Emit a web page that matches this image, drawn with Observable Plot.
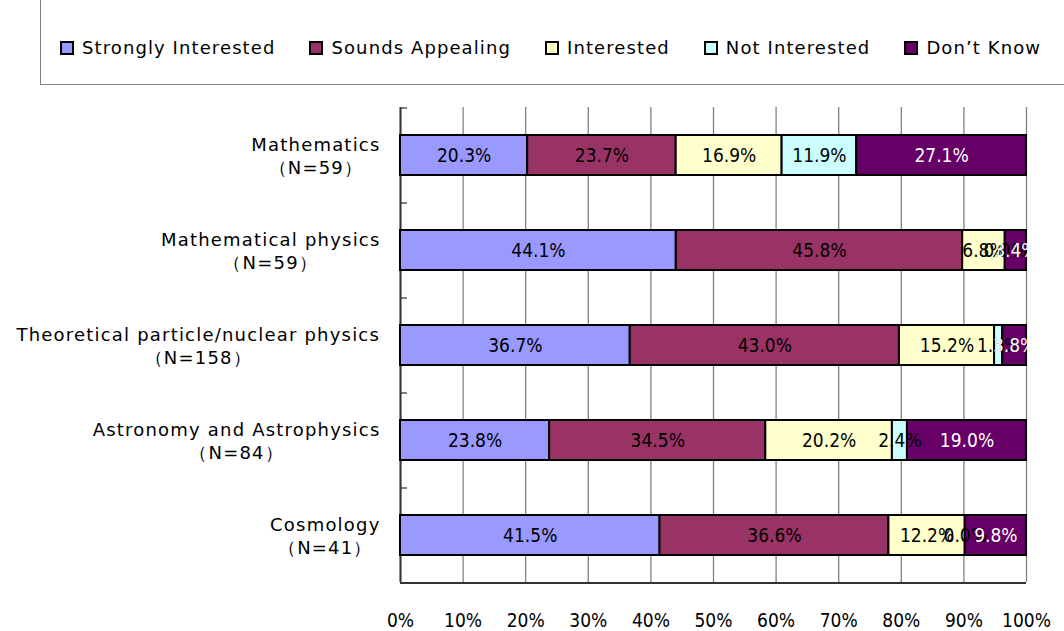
<!DOCTYPE html>
<html><head><meta charset="utf-8">
<script src="https://cdn.jsdelivr.net/npm/d3@7"></script>
<script src="https://cdn.jsdelivr.net/npm/@observablehq/plot@0.6"></script>
<style>
body{margin:0;background:#fff;overflow:hidden;width:1064px;height:631px;}
#legend{position:relative;height:85px;}
#legend .box{position:absolute;left:40px;top:-1px;width:1100px;height:86px;border:1px solid #808080;box-sizing:border-box;}
#legend .items{position:absolute;left:60px;top:37px;display:flex;font-family:"DejaVu Sans";font-size:18px;letter-spacing:1.1px;white-space:nowrap;}
.item{display:flex;align-items:center;margin-right:34px;}
.sw{width:14px;height:14px;border:2px solid #000;box-sizing:border-box;margin-right:8px;}
</style></head><body>
<div id="legend"><div class="box"></div><div class="items"></div></div>
<div id="chart"></div>
<script>
const categories = ["Mathematics\n\uFF08N=59\uFF09", "Mathematical physics\n\uFF08N=59\uFF09", "Theoretical particle/nuclear physics\n\uFF08N=158\uFF09", "Astronomy and Astrophysics\n\uFF08N=84\uFF09", "Cosmology\n\uFF08N=41\uFF09"];
const seriesNames = ["Strongly Interested", "Sounds Appealing", "Interested", "Not Interested", "Don\u2019t Know"];
const seriesColors = ["#9999FF", "#993366", "#FFFFCC", "#CCFFFF", "#660066"];
const stronglyInterested = [20.3, 44.1, 36.7, 23.8, 41.5];
const soundsAppealing   = [23.7, 45.8, 43.0, 34.5, 36.6];
const interested        = [16.9, 6.8, 15.2, 20.2, 12.2];
const notInterested     = [11.9, 0.0, 1.3, 2.4, 0.0];
const dontKnow          = [27.1, 3.4, 3.8, 19.0, 9.8];
const xTicks = [0, 0.1, 0.2, 0.3, 0.4, 0.5, 0.6, 0.7, 0.8, 0.9, 1.0];

const seriesValues = [stronglyInterested, soundsAppealing, interested, notInterested, dontKnow];
const data = [];
categories.forEach((c, i) => seriesNames.forEach((s, j) => data.push({category: c, series: s, value: seriesValues[j][i]})));

// legend
const items = d3.select("#legend .items");
seriesNames.forEach((s, j) => {
  const it = items.append("div").attr("class", "item");
  it.append("div").attr("class", "sw").style("background", seriesColors[j]);
  it.append("span").text(s);
});

const width = 1064, height = 546;
const marginTop = 22, marginBottom = 49, marginLeft = 400, marginRight = 38;
const step = (height - marginTop - marginBottom) / categories.length;
const plotW = width - marginLeft - marginRight;
const labelFont = "'Liberation Sans Narrow', 'Arial Narrow', 'DejaVu Sans Condensed', sans-serif";

const stackOpts = {x: "value", y: "category", z: "series", offset: "normalize"};

const chart = Plot.plot({
  width, height, marginTop, marginBottom, marginLeft, marginRight,
  style: {fontFamily: "DejaVu Sans", fontSize: "18px", color: "#000", background: "#fff"},
  x: {domain: [0, 1]},
  y: {domain: categories, paddingInner: 0.58, paddingOuter: 0.29},
  color: {domain: seriesNames, range: seriesColors},
  marks: [
    Plot.gridX(xTicks, {stroke: "#808080", strokeOpacity: 1, strokeWidth: 1.3}),
    Plot.ruleY(categories, {y: d => d, dy: -step / 2, insetRight: plotW - 7, stroke: "#555", strokeWidth: 1.5}),
    Plot.ruleY([categories[categories.length - 1]], {y: d => d, dy: step / 2, stroke: "#333", strokeWidth: 2}),
    Plot.ruleX([0], {stroke: "#333", strokeWidth: 2}),
    Plot.barX(data, Plot.stackX({...stackOpts, fill: "series", stroke: "#000", strokeWidth: 2})),
    Plot.text(data, Plot.stackX({...stackOpts,
      text: d => d.value.toFixed(1) + "%",
      fill: d => d.series === "Don\u2019t Know" ? "white" : "black",
      fontFamily: labelFont, fontSize: 19})),
    Plot.axisY({tickSize: 0, tickPadding: 20, label: null, lineHeight: 1.25, fontSize: 18, fontFamily: "DejaVu Sans"}),
    Plot.axisX({ticks: xTicks, tickFormat: d3.format(".0%"), tickSize: 0, tickPadding: 31, label: null, fontSize: 19, fontFamily: labelFont})
  ]
});
document.getElementById("chart").appendChild(chart);

// category labels: wider letter spacing, second line centred under the first
d3.select(chart).selectAll('g[aria-label="y-axis tick label"] text').each(function() {
  this.style.letterSpacing = "1.2px";
  const w = this.getBBox().width;
  this.setAttribute("text-anchor", "middle");
  const t = this.getAttribute("transform") || "";
  this.setAttribute("transform", t + ` translate(${-w / 2},0)`);
});
</script>
</body></html>
